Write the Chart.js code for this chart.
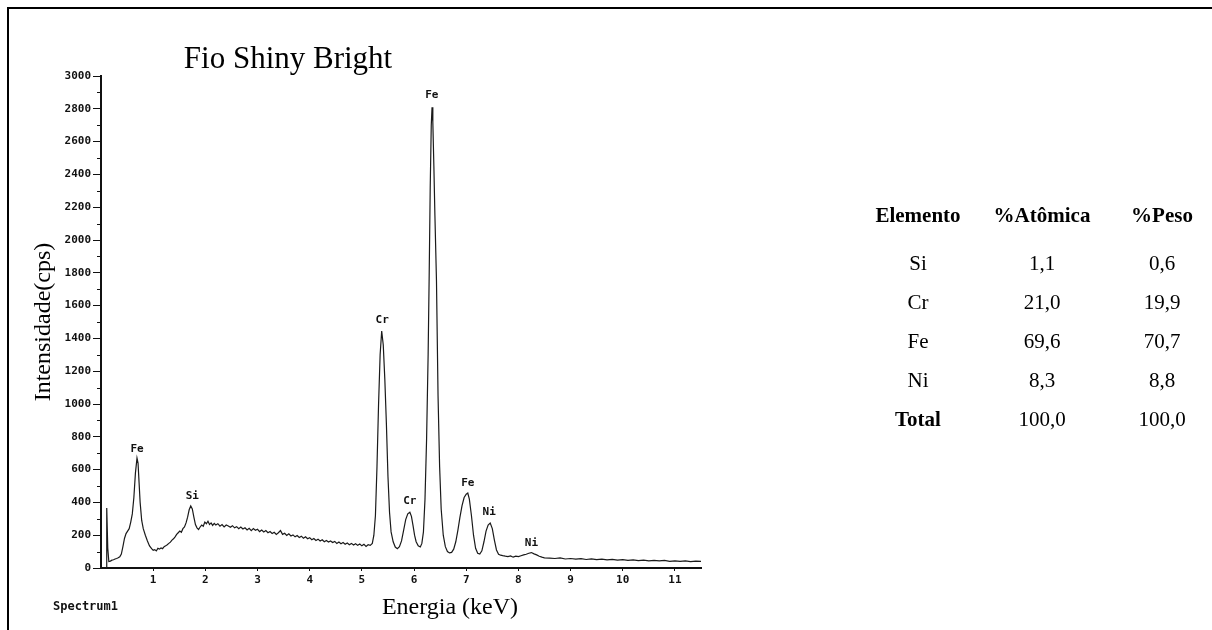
<!DOCTYPE html>
<html><head><meta charset="utf-8">
<script src="https://cdn.jsdelivr.net/npm/chart.js@4.4.0/dist/chart.umd.min.js"></script>
<style>
html,body{margin:0;padding:0;background:#fff;}
#wrap{position:relative;width:1212px;height:630px;overflow:hidden;background:#fff;}
#frame{position:absolute;left:7px;top:7px;width:1300px;height:700px;border-top:2px solid #000;border-left:2px solid #000;}
#c{position:absolute;left:0;top:0;}
.cell{position:absolute;font-family:"Liberation Serif","Times New Roman",serif;font-size:21px;color:#000;transform:translate(-50%,-50%);white-space:nowrap;line-height:1;}
.b{font-weight:bold;}
</style></head>
<body><div id="wrap"><div id="frame"></div><canvas id="c" width="1212" height="630"></canvas><div id="table"></div></div>
<script>
// ---- spectrum data (keV, cps) ----
const lowKeV = [0.10,0.11,0.13,0.15,0.18,0.21,0.24,0.27,0.30,0.33,0.36,0.39,0.42,0.45,0.48,0.51,0.54,0.57,0.60,0.63,0.66,0.69,0.71,0.73,0.75,0.78,0.81,0.85,0.89,0.93,0.97,1.00,1.03,1.06,1.09];
const lowCps = [0,366,120,40,42,48,50,55,58,62,68,85,130,180,210,225,240,280,330,430,580,670,640,520,400,290,240,200,165,135,118,108,112,104,120];

const bgKeV = [1.12,1.15,1.18,1.21,1.24,1.27,1.30,1.33,1.36,1.39,1.42,1.45,1.48,1.51,1.54,1.57,1.60,1.63,1.66,1.69,1.72,1.75,1.78,1.81,1.84,1.87,1.90,1.93,1.96,1.99,2.02,2.05,2.08,2.11,2.14,2.17,2.20,
 2.24,2.28,2.32,2.36,2.40,2.44,2.48,2.52,2.56,2.60,2.64,2.68,2.72,2.76,2.80,2.84,2.88,2.92,2.96,3.00,3.04,3.08,3.12,3.16,3.20,3.24,3.28,3.32,3.36,3.40,3.44,3.48,3.52,3.56,3.60,3.64,3.68,3.72,3.76,3.80,3.84,3.88,3.92,3.96,4.00,4.04,4.08,4.12,4.16,4.20,4.24,4.28,4.32,4.36,4.40,4.44,4.48,4.52,4.56,4.60,4.64,4.68,4.72,4.76,4.80,4.84,4.88,4.92,4.96,5.00,5.04,5.08,5.12,5.16,5.20];
const bgCps = [115,122,118,130,135,142,150,158,170,178,190,205,215,225,218,240,250,275,310,355,378,360,310,265,245,235,250,262,255,280,270,285,265,275,260,272,262,
 270,255,265,250,262,256,248,258,245,252,240,250,238,245,232,242,228,240,230,236,222,232,220,228,215,222,210,218,205,215,228,205,212,198,208,195,202,190,198,186,194,182,190,178,185,172,180,168,176,165,172,160,168,158,165,155,162,150,158,148,155,145,152,142,150,140,148,138,146,135,144,132,142,138,150];

const peakKeV = [5.23,5.26,5.29,5.32,5.35,5.38,5.41,5.44,5.47,5.50,5.53,5.56,5.60,5.64,5.68,5.72,5.76,5.80,5.84,5.88,5.92,5.95,5.98,6.01,6.04,6.08,6.12,6.15,6.18,6.21,6.24,6.27,6.29,6.31,6.33,6.345,6.36,6.38,6.40,6.43,6.46,6.49,6.52,6.56,6.60,6.64,6.68,6.72,6.76,6.80,6.84,6.88,6.92,6.96,7.00,7.03,7.06,7.10,7.14,7.18,7.22,7.26,7.30,7.34,7.38,7.42,7.46,7.50,7.54,7.58,7.62,7.66,7.70,7.75,7.80,7.85,7.90,7.95,8.00,8.05,8.10,8.15,8.20,8.25,8.30,8.35,8.40,8.45,8.50];
const peakCps = [200,320,620,1000,1300,1445,1360,1150,880,560,340,220,160,128,118,130,165,230,295,330,340,315,260,200,160,135,128,150,220,420,780,1300,1780,2320,2700,2810,2720,2450,2150,1750,1050,620,360,200,130,100,92,95,115,160,230,310,380,430,450,457,420,320,200,120,90,85,105,160,225,262,274,240,170,110,84,78,75,72,70,74,66,72,70,75,80,84,90,94,86,80,72,66,62];

const tailKeV = [8.6,8.7,8.8,8.9,9.0,9.1,9.2,9.3,9.4,9.5,9.6,9.7,9.8,9.9,10.0,10.1,10.2,10.3,10.4,10.5,10.6,10.7,10.8,10.9,11.0,11.1,11.2,11.3,11.4,11.5];
const tailCps = [60,58,62,55,58,54,57,52,56,51,54,49,53,48,51,46,50,45,48,44,47,43,46,41,44,40,43,39,42,40];

// ---- peak annotations ----
const peakNames    = ['Fe','Si','Cr','Cr','Fe','Fe','Ni','Ni'];
const peakLabelKeV = [0.69,1.75,5.39,5.92,6.34,7.03,7.44,8.25];
const peakLabelCps = [725,440,1510,410,2885,518,341,152];

// ---- axes ----
const xTickValues = [1,2,3,4,5,6,7,8,9,10,11];
const yTickValues = [0,200,400,600,800,1000,1200,1400,1600,1800,2000,2200,2400,2600,2800,3000];
const yMinorTicks = [100,300,500,700,900,1100,1300,1500,1700,1900,2100,2300,2500,2700,2900];
const chartTitle = 'Fio Shiny Bright';
const xTitle = 'Energia (keV)';
const yTitle = 'Intensidade(cps)';
const spectrumName = 'Spectrum1';

// ---- composition table ----
const tableHeaders = ['Elemento','%Atômica','%Peso'];
const elements  = ['Si','Cr','Fe','Ni','Total'];
const atomicPct = ['1,1','21,0','69,6','8,3','100,0'];
const weightPct = ['0,6','19,9','70,7','8,8','100,0'];

// build table
(function(){
  const colX = [918,1042,1162];
  const rowY = [215,263,302,341,380,419];
  const t = document.getElementById('table');
  function add(txt,x,y,bold){const d=document.createElement('div');d.className='cell'+(bold?' b':'');d.textContent=txt;d.style.left=x+'px';d.style.top=y+'px';t.appendChild(d);}
  tableHeaders.forEach((h,i)=>add(h,colX[i],rowY[0],true));
  elements.forEach((e,r)=>{
    const last = e==='Total';
    add(e,colX[0],rowY[r+1],last);
    add(atomicPct[r],colX[1],rowY[r+1],false);
    add(weightPct[r],colX[2],rowY[r+1],false);
  });
})();

const energyKeV = lowKeV.concat(bgKeV, peakKeV, tailKeV);
const countsCps = lowCps.concat(bgCps, peakCps, tailCps);
const points = energyKeV.map((e,i)=>({x:e,y:countsCps[i]}));

const tickFont = {family:'"DejaVu Sans Mono", monospace', weight:'bold', size:11};

const overlay = {
  id:'overlay',
  afterDraw(chart){
    const {ctx, scales:{x,y}, chartArea} = chart;
    ctx.save();
    ctx.strokeStyle='#111'; ctx.lineWidth=1;
    yMinorTicks.forEach(v=>{
      const py=Math.round(y.getPixelForValue(v))+0.5;
      ctx.beginPath(); ctx.moveTo(chartArea.left-4,py); ctx.lineTo(chartArea.left,py); ctx.stroke();
    });
    ctx.fillStyle='#111'; ctx.textAlign='center'; ctx.textBaseline='middle';
    ctx.font='bold 11px "DejaVu Sans Mono"';
    peakNames.forEach((n,i)=>ctx.fillText(n, x.getPixelForValue(peakLabelKeV[i]), y.getPixelForValue(peakLabelCps[i])));
    ctx.fillStyle='#000';
    ctx.font='31px "Liberation Serif"'; ctx.textBaseline='alphabetic';
    ctx.fillText(chartTitle, 288, 68);
    ctx.font='24px "Liberation Serif"'; ctx.textBaseline='middle';
    ctx.fillText(xTitle, 450, 608);
    ctx.fillStyle='#111';
    ctx.font='bold 12px "DejaVu Sans Mono"'; ctx.textAlign='left';
    ctx.fillText(spectrumName, 53, 607);
    ctx.restore();
  }
};

new Chart(document.getElementById('c'), {
  type:'line',
  data:{datasets:[{label:'Spectrum1', data:points, borderColor:'#1a1a1a', borderWidth:1.2, pointRadius:0, tension:0, fill:false}]},
  options:{
    responsive:false, animation:false,
    layout:{padding:{left:0, top:76, right:511, bottom:0}},
    plugins:{legend:{display:false}, tooltip:{enabled:false}, title:{display:false}},
    scales:{
      x:{
        type:'linear', min:0, max:11.5,
        afterBuildTicks:s=>{s.ticks = xTickValues.map(v=>({value:v}));},
        afterFit:s=>{s.height = 62;},
        border:{display:true, color:'#111', width:2},
        grid:{drawOnChartArea:false, drawTicks:true, tickLength:3, color:'#111'},
        ticks:{color:'#111', font:tickFont, padding:3, maxRotation:0, autoSkip:false, callback:v=>String(v)}
      },
      y:{
        type:'linear', min:0, max:3000,
        afterBuildTicks:s=>{s.ticks = yTickValues.map(v=>({value:v}));},
        afterFit:s=>{s.width = 101;},
        border:{display:true, color:'#111', width:2},
        grid:{drawOnChartArea:false, drawTicks:true, tickLength:8, color:'#111'},
        ticks:{color:'#111', font:tickFont, padding:2, autoSkip:false, callback:v=>String(v)},
        title:{display:true, text:yTitle, color:'#000', font:{family:'"Liberation Serif"', size:24}, padding:{top:29,bottom:0}}
      }
    }
  },
  plugins:[overlay]
});
</script>
</body></html>
